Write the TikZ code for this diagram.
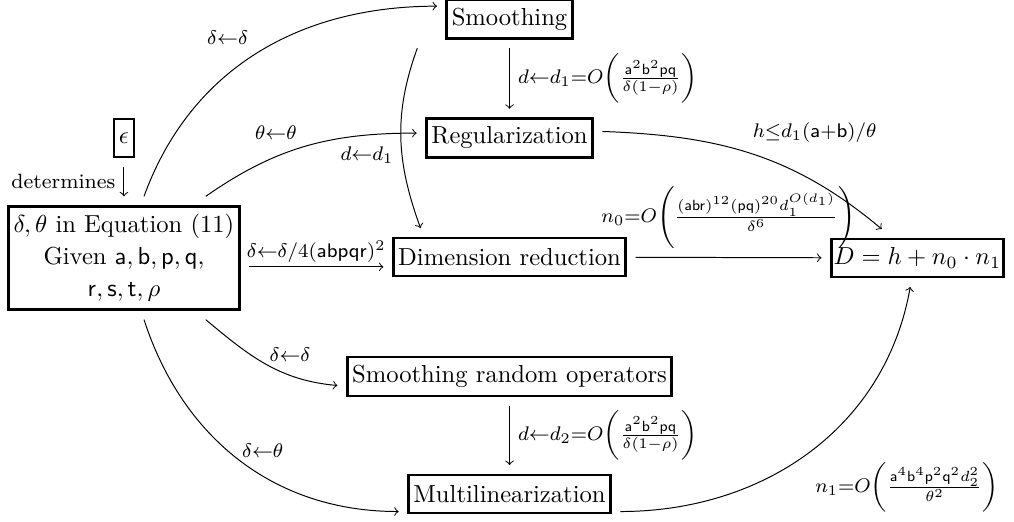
\documentclass[tikz,border=0pt]{standalone}
\usepackage{amsmath,amssymb}
\usepackage{tikz}

\begin{document}
\begin{tikzpicture}[x=1cm,y=1cm,
  box/.style={draw,line width=1.1pt,inner xsep=2pt,minimum height=15.5pt,outer sep=4pt},
  lbl/.style={font=\fontsize{8.4}{10}\selectfont}]
\useasboundingbox (0,0) rectangle (14.486,7.457);
\node[box] (smooth) at (7.279,7.186) {Smoothing};
\node[box] (reg) at (7.279,5.486) {Regularization};
\node[box] (dim) at (7.279,3.786) {Dimension reduction};
\node[box] (sro) at (7.279,2.079) {Smoothing random operators};
\node[box] (multi) at (7.279,0.400) {Multilinearization};
\node[box] (eps) at (1.771,5.486) {$\epsilon$};
\node[box,align=center,font=\fontsize{10}{13}\selectfont] (given) at (1.771,3.771)
  {$\delta,\theta$ in Equation (11)\\Given $\mathsf{a},\mathsf{b},\mathsf{p},\mathsf{q}$,\\$\mathsf{r},\mathsf{s},\mathsf{t},\rho$};
\node[box,inner xsep=1pt] (total) at (13.107,3.771) {$D=h+n_0\cdot n_1$};
\draw[->] (eps) -- (given) node[midway,left,lbl] {determines};
\draw[->] (given.72) to[out=70,in=180] node[pos=0.5,above left,lbl] {$\delta{\leftarrow}\delta$} (smooth.170);
\draw[->] (given.37) to[out=35,in=180] node[pos=0.35,above=3.5pt,lbl] {$\theta{\leftarrow}\theta$} (reg.177);
\draw[->] ([xshift=-8pt]smooth.south west) to[out=-110,in=110] node[pos=0.6,left,lbl] {$d{\leftarrow}d_1$} (dim.162);
\draw[->] (smooth) -- (reg) node[midway,right,lbl]
  {$d{\leftarrow}d_1{=}O\biggl(\frac{\mathsf{a}^2\mathsf{b}^2\mathsf{pq}}{\delta(1-\rho)}\biggr)$};
\draw[->] (reg.4) to[out=-2,in=140] node[pos=0.47,above right,lbl] {$h{\leq}d_1(\mathsf{a}{+}\mathsf{b})/\theta$} (total.141);
\draw[->] ([yshift=-3.6pt]given.east) -- ([yshift=-3.6pt]given.east -| dim.west)
  node[midway,above,inner sep=1.5pt,lbl] {$\delta{\leftarrow}\delta/4(\mathsf{abpqr})^2$};
\draw[->] (dim) -- (total) node[midway,above,lbl]
  {$n_0{=}O\Biggl(\frac{(\mathsf{abr})^{12}(\mathsf{pq})^{20}d_1^{O(d_1)}}{\delta^6}\Biggr)$};
\draw[->] (given.-37) to[out=-40,in=175] node[pos=0.5,above right,inner sep=1pt,lbl] {$\delta{\leftarrow}\delta$} (sro.183);
\draw[->] (given.-72) to[out=-72,in=180] node[pos=0.5,above right,inner sep=1pt,lbl] {$\delta{\leftarrow}\theta$} (multi.189);
\draw[->] (sro) -- (multi) node[midway,right,lbl]
  {$d{\leftarrow}d_2{=}O\biggl(\frac{\mathsf{a}^2\mathsf{b}^2\mathsf{pq}}{\delta(1-\rho)}\biggr)$};
\draw[->] (multi.-9) to[out=0,in=-100] node[pos=0.49,below right,lbl]
  {$n_1{=}O\biggl(\frac{\mathsf{a}^4\mathsf{b}^4\mathsf{p}^2\mathsf{q}^2d_2^2}{\theta^2}\biggr)$} (total.-104);
\end{tikzpicture}
\end{document}
